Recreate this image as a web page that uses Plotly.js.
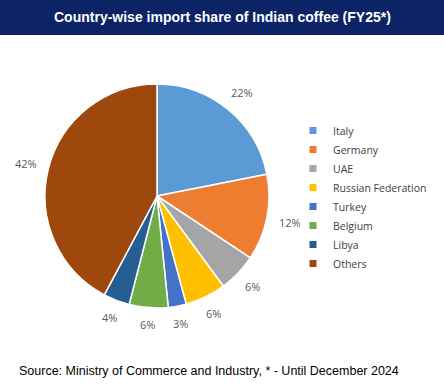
<!DOCTYPE html>
<html><head><meta charset="utf-8">
<script src="https://cdn.plot.ly/plotly-3.0.1.min.js"></script>
<style>html,body{margin:0;padding:0;background:#fff}#chart{width:444px;height:388px}</style>
</head><body><div id="chart"></div>
<script>
const countries = ["Italy","Germany","UAE","Russian Federation","Turkey","Belgium","Libya","Others"];
const shares = [21.9, 12.4, 5.6, 5.9, 2.6, 5.6, 3.8, 42.2];
const colors = ["#5B9BD5","#ED7D31","#A5A5A5","#FFC000","#4472C4","#70AD47","#255E91","#9E480E"];
const titleText = "Country-wise import share of Indian coffee (FY25*)";
const sourceText = "Source: Ministry of Commerce and Industry, * - Until December 2024";

const W = 444, H = 388;
const cx = 157, cy = 196, r = 112;

const pie = {
  type: "pie",
  labels: countries,
  values: shares,
  sort: false,
  direction: "clockwise",
  rotation: 0,
  marker: {colors: colors, line: {color: "#ffffff", width: 1.5}},
  textinfo: "none",
  hoverinfo: "label+percent",
  showlegend: false,
  domain: {x: [(cx - r) / W, (cx + r) / W], y: [(H - cy - r) / H, (H - cy + r) / H]}
};

// legend entries (small square keys)
const legendTraces = countries.map((c, i) => ({
  type: "scatter", mode: "markers", x: [null], y: [null], name: c,
  marker: {symbol: "square", size: 7, color: colors[i]},
  showlegend: true, hoverinfo: "skip"
}));

// outside percentage labels at the mid-angle of each slice
const total = shares.reduce((a, b) => a + b, 0);
const labelAnns = [];
let cum = 0;
shares.forEach((v, i) => {
  const mid = (cum + v / 2) / total * 2 * Math.PI;
  cum += v;
  const s = Math.sin(mid), c = Math.cos(mid);
  const txt = Math.round(v / total * 100) + "%";
  const halfW = txt.length * 3.6, halfH = 4;
  const d = r + 12 + Math.abs(s) * halfW + Math.abs(c) * halfH;
  const px = cx + d * s, py = cy - d * c;
  labelAnns.push({
    text: txt, xref: "paper", yref: "paper", x: px / W, y: 1 - py / H,
    xanchor: "center", yanchor: "middle", showarrow: false,
    font: {family: "Open Sans, sans-serif", size: 11, color: "#595959"}
  });
});

const layout = {
  width: W, height: H,
  margin: {l: 0, r: 0, t: 0, b: 0},
  paper_bgcolor: "#ffffff",
  plot_bgcolor: "rgba(0,0,0,0)",
  xaxis: {visible: false}, yaxis: {visible: false},
  showlegend: true,
  legend: {
    x: 293 / W, xanchor: "left",
    y: 1 - 116 / H, yanchor: "top",
    font: {family: "Open Sans, sans-serif", size: 10.5, color: "#404040"},
    bgcolor: "rgba(0,0,0,0)"
  },
  shapes: [{
    type: "rect", xref: "paper", yref: "paper",
    x0: 0, x1: 1, y0: 1 - 35 / H, y1: 1,
    fillcolor: "#0C2366", line: {width: 0}, layer: "below"
  }],
  annotations: [
    {text: "<b>" + titleText + "</b>", xref: "paper", yref: "paper", x: 0.5, y: 1 - 17.5 / H,
     xanchor: "center", yanchor: "middle", showarrow: false,
     font: {family: "Arial, Liberation Sans, sans-serif", size: 14, color: "#ffffff"}},
    {text: sourceText, xref: "paper", yref: "paper", x: 17 / W, y: 1 - 371 / H,
     xanchor: "left", yanchor: "middle", showarrow: false,
     font: {family: "Arial, Liberation Sans, sans-serif", size: 12.5, color: "#000000"}}
  ].concat(labelAnns)
};

Plotly.newPlot("chart", [pie].concat(legendTraces), layout, {displayModeBar: false, staticPlot: true});
</script></body></html>
